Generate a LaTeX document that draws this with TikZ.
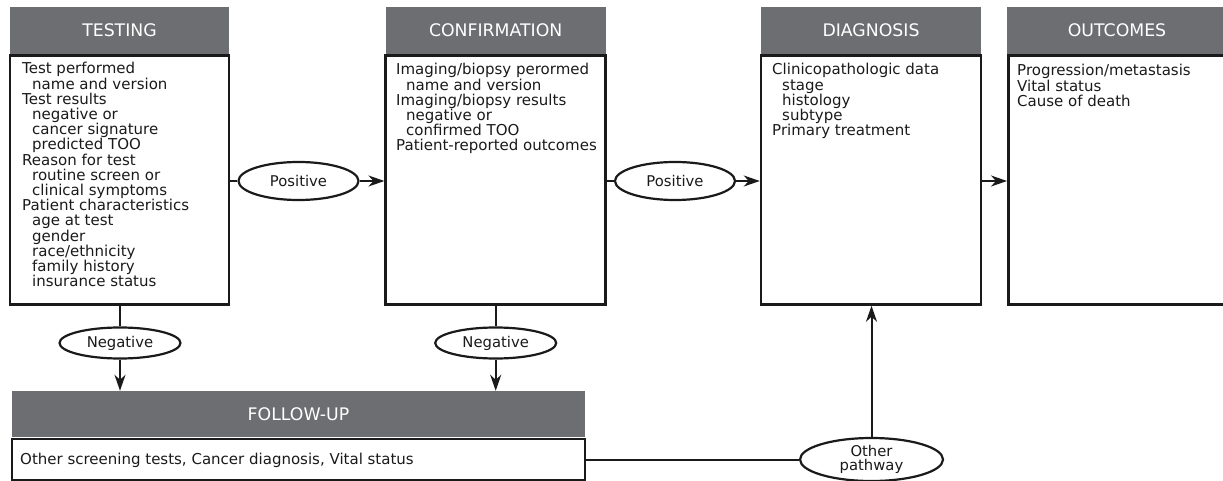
\documentclass[tikz,border=0pt]{standalone}
\usepackage{fontspec}
\setmainfont{DejaVu Sans}
\usetikzlibrary{shapes.geometric,arrows.meta}
\definecolor{hdrgray}{HTML}{6D6E71}
\definecolor{ink}{HTML}{1A1A1A}
\tikzset{
  hdr/.style={fill=hdrgray, text=white, inner sep=0, font=\fontsize{17.3}{20}\selectfont},
  bodybox/.style={draw=ink, line width=2.5pt, inner sep=0},
  txt/.style={anchor=base west, inner sep=0, text=ink, font=\fontsize{15}{15.2}\selectfont},
  oval/.style={ellipse, draw=ink, line width=2.2pt, inner sep=0, fill=white, text=ink, align=center, font=\fontsize{14.8}{14.5}\selectfont},
  conn/.style={draw=ink, line width=2pt},
  arr/.style={conn, -{Stealth[length=16pt,width=11pt,inset=5pt]}}
}
\newcommand{\ind}{\hspace*{10pt}}
\begin{document}
\begin{tikzpicture}[x=1pt,y=-1pt]
\useasboundingbox (0,0) rectangle (1223,481);
% headers
\node[hdr, minimum width=219pt, minimum height=47pt] (th) at (119.5,30.5) {TESTING};
\node[hdr, minimum width=220pt, minimum height=47pt] (ch) at (495.7,30.5) {CONFIRMATION};
\node[hdr, minimum width=220pt, minimum height=47pt] (dh) at (871,30.5) {DIAGNOSIS};
\node[hdr, minimum width=216pt, minimum height=47pt, anchor=west] (oh) at (1007,30.5) {\hspace*{0pt}};
\node[text=white, inner sep=0, font=\fontsize{17.3}{20}\selectfont] (oht) at (1117,30.5) {OUTCOMES};
% body boxes
\node[bodybox, minimum width=219pt, minimum height=249pt] (tb) at (119.5,180) {};
\node[bodybox, minimum width=220pt, minimum height=249pt] (cb) at (495.7,180) {};
\node[bodybox, minimum width=220pt, minimum height=249pt] (db) at (871,180) {};
\node[bodybox, minimum width=224pt, minimum height=249pt, anchor=west] (ob) at (1007,180) {};
% texts
\node[txt] (tt) at (22,74) {\parbox[t]{200pt}{\raggedright
Test performed\\
\ind name and version\\
Test results\\
\ind negative or\\
\ind cancer signature\\
\ind predicted TOO\\
Reason for test\\
\ind routine screen or\\
\ind clinical symptoms\\
Patient characteristics\\
\ind age at test\\
\ind gender\\
\ind race/ethnicity\\
\ind family history\\
\ind insurance status}};
\node[txt] (ct) at (396,75) {\parbox[t]{205pt}{\raggedright
Imaging/biopsy perormed\\
\ind name and version\\
Imaging/biopsy results\\
\ind negative or\\
\ind confirmed TOO\\
Patient-reported outcomes}};
\node[txt] (dt) at (772,75) {\parbox[t]{205pt}{\raggedright
Clinicopathologic data\\
\ind stage\\
\ind histology\\
\ind subtype\\
Primary treatment}};
\node[txt] (ot) at (1017,76) {\parbox[t]{205pt}{\raggedright
Progression/metastasis\\
Vital status\\
Cause of death}};
% follow-up
\node[hdr, minimum width=573pt, minimum height=46pt] (fh) at (298.5,414) {FOLLOW-UP};
\node[bodybox, minimum width=573pt, minimum height=41pt] (fb) at (298.5,459.5) {};
\node[txt] (ft) at (20,464) {Other screening tests, Cancer diagnosis, Vital status};
% ovals
\node[oval, minimum width=120pt, minimum height=38pt] (p1) at (298.5,181) {Positive};
\node[oval, minimum width=120pt, minimum height=38pt] (p2) at (675,181) {Positive};
\node[oval, minimum width=121pt, minimum height=31pt] (n1) at (120,343) {Negative};
\node[oval, minimum width=121pt, minimum height=31pt] (n2) at (495.7,343) {Negative};
\node[oval, minimum width=143pt, minimum height=43pt] (op) at (871.5,459.5) {Other\\pathway};
% connectors
\draw[conn] (tb.east |- p1) -- (p1.west);
\draw[arr] (p1.east) -- (cb.west |- p1);
\draw[conn] (cb.east |- p2) -- (p2.west);
\draw[arr] (p2.east) -- (db.west |- p2);
\draw[arr] (db.east |- p2) -- (ob.west |- p2);
\draw[conn] (tb.south -| n1) -- (n1.north);
\draw[arr] (n1.south) -- (fh.north -| n1);
\draw[conn] (cb.south -| n2) -- (n2.north);
\draw[arr] (n2.south) -- (fh.north -| n2);
\draw[conn] (fb.east) -- (op.west);
\draw[arr] (op.north) -- (db.south -| op);
\end{tikzpicture}
\end{document}
